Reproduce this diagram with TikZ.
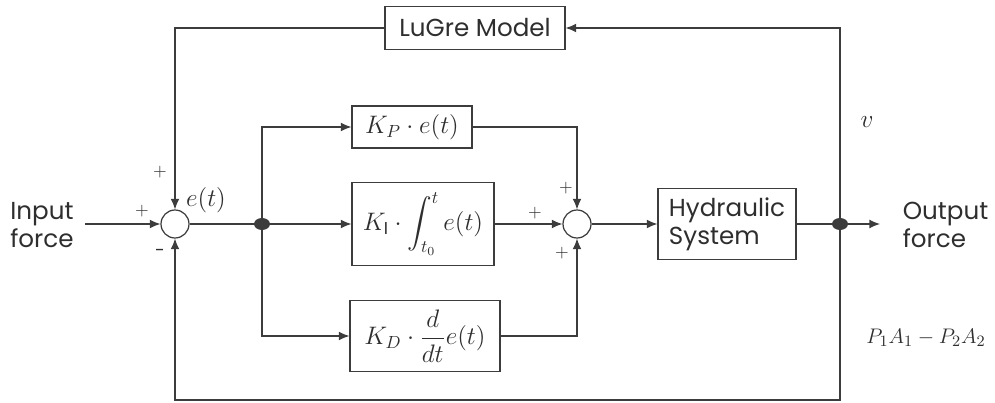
\documentclass[tikz,border=0pt]{standalone}
\usepackage{amsmath,amssymb}
\usepackage{fontspec}
\setmainfont{Poppins}
\usepackage{tikz}
\usetikzlibrary{positioning,arrows.meta,shapes.geometric}
\definecolor{lnegray}{HTML}{3C3C3C}
\definecolor{txtgray}{HTML}{2E2E2E}

\tikzset{
  block/.style={draw=lnegray,line width=0.7pt,inner sep=2pt,font=\fontsize{14}{16}\selectfont,text=txtgray},
  sumnode/.style={draw=lnegray,line width=0.7pt,circle,minimum size=0.56cm,inner sep=0pt},
  junct/.style={fill=lnegray,ellipse,minimum width=0.32cm,minimum height=0.24cm,inner sep=0pt},
  sig/.style={line width=0.6pt,draw=lnegray,-{Latex[length=6pt,width=5pt]}},
  wire/.style={line width=0.6pt,draw=lnegray},
  sgn/.style={font=\normalsize,text=txtgray},
  lbl/.style={font=\fontsize{14}{16}\selectfont,text=txtgray,align=left,inner sep=0pt}
}

\begin{document}
\begin{tikzpicture}
  \useasboundingbox (0,0) rectangle (19.9,-8.06);
  % blocks
  \node[block,minimum width=3.6cm,minimum height=0.86cm] (lugre) at (9.5,-0.56) {LuGre Model};
  \node[sumnode] (sumA) at (3.5,-4.48) {};
  \node[junct] (branch) at (5.24,-4.48) {};
  \node[block,minimum width=2.4cm,minimum height=0.84cm] (kp) at (8.24,-2.54) {$K_P\cdot e(t)$};
  \node[block,minimum width=2.84cm,minimum height=1.66cm] (ki) at (8.46,-4.48) {$K_{\mathrm{I}}\cdot \displaystyle\int_{t_0}^{t} e(t)$};
  \node[block,minimum width=3.0cm,minimum height=1.42cm] (kd) at (8.5,-6.72) {$K_D\cdot \dfrac{d}{dt}e(t)$};
  \node[sumnode] (sumB) at (11.54,-4.48) {};
  \node[block,minimum width=2.76cm,minimum height=1.42cm,align=left] (hyd) at (14.54,-4.48) {Hydraulic\\System};
  \node[junct] (outdot) at (16.8,-4.48) {};
  \coordinate (inp) at (1.7,-4.48);
  \coordinate (outp) at (17.6,-4.48);
  \coordinate (topleft) at (3.5,-0.56);
  \coordinate (topright) at (16.8,-0.56);
  \coordinate (botleft) at (3.5,-8.0);
  \coordinate (botright) at (16.8,-8.0);
  % signal lines
  \draw[sig] (inp) -- (sumA);
  \draw[sig] (lugre.west) -- (topleft) -- (sumA);
  \draw[wire] (sumA) -- (branch);
  \draw[sig] (branch) -- (ki);
  \draw[sig] (branch) |- (kp);
  \draw[sig] (branch) |- (kd);
  \draw[sig] (kp) -| (sumB);
  \draw[sig] (ki) -- (sumB);
  \draw[sig] (kd) -| (sumB);
  \draw[sig] (sumB) -- (hyd);
  \draw[wire] (hyd) -- (outdot);
  \draw[sig] (outdot) -- (outp);
  \draw[sig] (outdot) -- (topright) -- (lugre.east);
  \draw[sig] (outdot) -- (botright) -- (botleft) -- (sumA);
  % labels
  \node[lbl,anchor=west] (inlbl) at (0.2,-4.5) {Input\\force};
  \node[lbl,anchor=west] (outlbl) at (18.05,-4.5) {Output\\force};
  \node[sgn] (pA1) at (3.2,-3.44) {$+$};
  \node[sgn] (pA2) at (2.84,-4.22) {$+$};
  \node[sgn] (mA) at (3.2,-5.06) {-};
  \node[lbl] (err) at (4.12,-4.0) {$e(t)$};
  \node[sgn] (pB1) at (11.32,-3.76) {$+$};
  \node[sgn] (pB2) at (10.7,-4.26) {$+$};
  \node[sgn] (pB3) at (11.24,-5.06) {$+$};
  \node[lbl] (vel) at (17.34,-2.44) {$v$};
  \node[lbl,font=\fontsize{12.5}{15}\selectfont] (frc) at (18.52,-6.76) {$P_1A_1-P_2A_2$};
\end{tikzpicture}
\end{document}
